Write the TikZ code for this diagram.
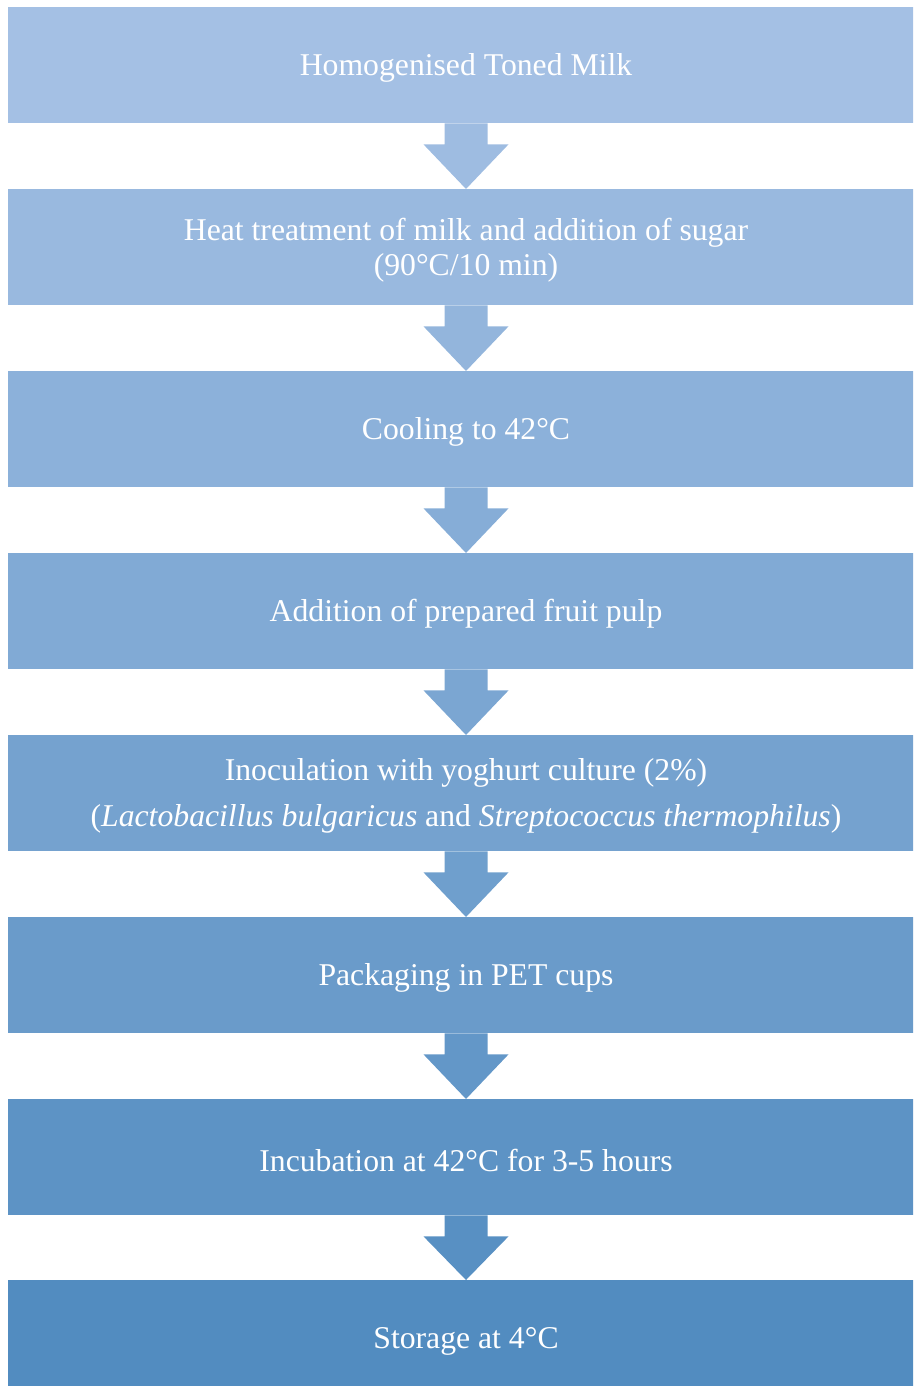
\documentclass[tikz,border=0pt]{standalone}
\usepackage{fontspec}
\setmainfont{Liberation Serif}
\usetikzlibrary{calc}
\definecolor{topblue}{RGB}{164,192,228}
\definecolor{botblue}{RGB}{82,140,192}
\begin{document}
\begin{tikzpicture}[x=1pt,y=-1pt,
  stepbox/.style={minimum width=916pt, minimum height=116pt, inner sep=0pt, anchor=north},
  steptext/.style={text=white, font=\fontsize{31.7}{35}\selectfont, align=center,
    inner sep=0pt, yshift=-3pt}]
\useasboundingbox (0,0) rectangle (913,1386);
\clip (0,0) rectangle (913,1386);

% process steps, shading from light to darker blue
\node[stepbox, fill=topblue!100!botblue] (s1) at (466,7)    {};
\node[stepbox, fill=topblue!86!botblue]  (s2) at (466,189)  {};
\node[stepbox, fill=topblue!71!botblue]  (s3) at (466,371)  {};
\node[stepbox, fill=topblue!57!botblue]  (s4) at (466,553)  {};
\node[stepbox, fill=topblue!43!botblue]  (s5) at (466,735)  {};
\node[stepbox, fill=topblue!29!botblue]  (s6) at (466,917)  {};
\node[stepbox, fill=topblue!14!botblue]  (s7) at (466,1099) {};
\node[stepbox, fill=topblue!0!botblue]   (s8) at (466,1280) {};

% step texts
\node[steptext] (t1) at (s1.center) {Homogenised Toned Milk};
\node[steptext] (t2) at (s2.center) {Heat treatment of milk and addition of sugar\\(90°C/10 min)};
\node[steptext] (t3) at (s3.center) {Cooling to 42°C};
\node[steptext] (t4) at (s4.center) {Addition of prepared fruit pulp};
\node[steptext] (t5) at (s5.center) {Inoculation with yoghurt culture (2\%)\\[11pt](\textit{Lactobacillus bulgaricus} and \textit{Streptococcus thermophilus})};
\node[steptext] (t6) at (s6.center) {Packaging in PET cups};
\node[steptext] (t7) at (s7.center) {Incubation at 42°C for 3-5 hours};
\node[steptext] (t8) at (s8.center) {Storage at 4°C};

% block arrows between consecutive steps
\foreach \a/\b/\p in {s1/s2/93, s2/s3/79, s3/s4/64, s4/s5/50, s5/s6/36, s6/s7/21, s7/s8/7}{
  \fill[topblue!\p!botblue]
    ($(\a.south)+(-21.5,0)$) -- ($(\a.south)+(-21.5,21)$) -- ($(\a.south)+(-42.5,21)$)
    -- (\b.north)
    -- ($(\a.south)+(42.5,21)$) -- ($(\a.south)+(21.5,21)$) -- ($(\a.south)+(21.5,0)$) -- cycle;
}
\end{tikzpicture}
\end{document}
